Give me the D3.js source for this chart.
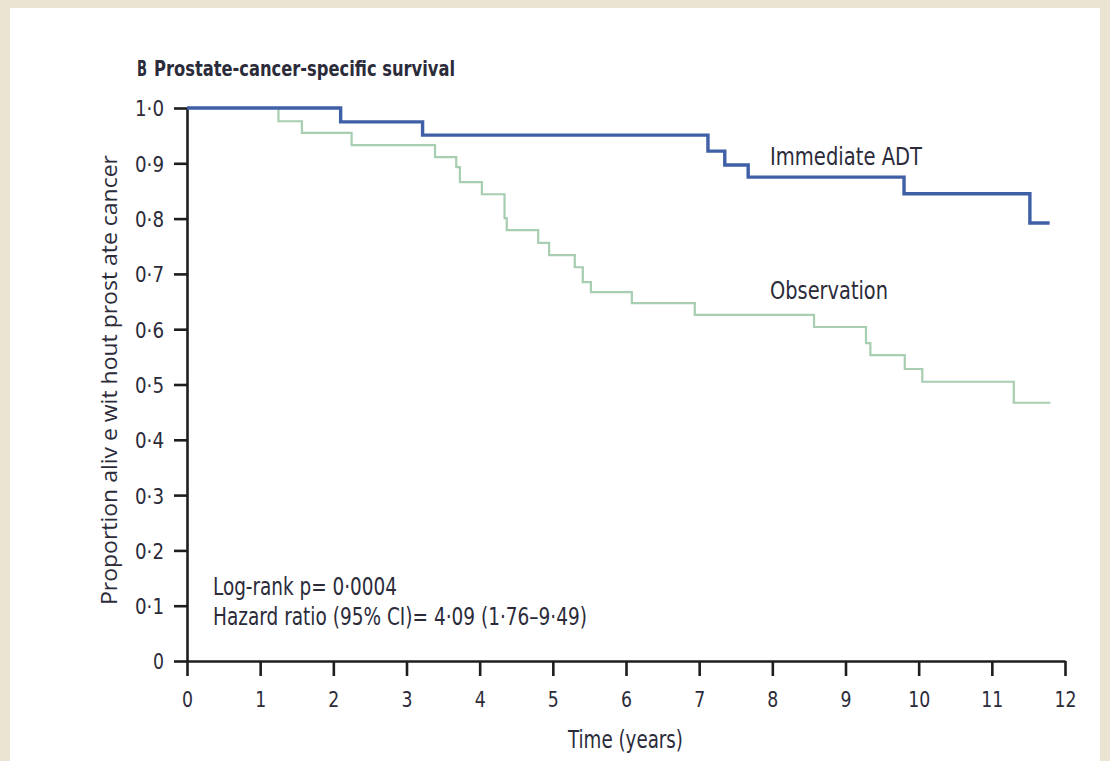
<!DOCTYPE html>
<html>
<head>
<meta charset="utf-8">
<script src="https://cdn.jsdelivr.net/npm/d3@7"></script>
<style>
  body { margin: 0; background: #ede5d5; }
  svg { display: block; }
</style>
</head>
<body>
<svg id="chart" width="1110" height="761"></svg>
<script>
// Kaplan–Meier step points: [time in years, survival proportion]
const adtTimes = [0, 2.1, 3.22, 7.12, 7.35, 7.67, 9.8, 11.52, 11.79];
const adtSurvival = [1.0, 0.975, 0.951, 0.922, 0.897, 0.875, 0.845, 0.792, 0.792];

const obsTimes = [0, 1.25, 1.57, 2.25, 3.39, 3.68, 3.73, 4.03, 4.34, 4.37, 4.80, 4.95,
  5.30, 5.41, 5.52, 6.08, 6.94, 8.57, 9.28, 9.34, 9.81, 10.05, 11.30, 11.80];
const obsSurvival = [1.0, 0.976, 0.955, 0.933, 0.911, 0.893, 0.866, 0.844, 0.801, 0.779, 0.756, 0.734,
  0.712, 0.685, 0.667, 0.647, 0.626, 0.604, 0.575, 0.553, 0.528, 0.505, 0.467, 0.467];

const xTickValues = [0, 1, 2, 3, 4, 5, 6, 7, 8, 9, 10, 11, 12];
const xTickLabels = ["0", "1", "2", "3", "4", "5", "6", "7", "8", "9", "10", "11", "12"];
const yTickValues = [0, 0.1, 0.2, 0.3, 0.4, 0.5, 0.6, 0.7, 0.8, 0.9, 1.0];
const yTickLabels = ["0", "0·1", "0·2", "0·3", "0·4", "0·5", "0·6", "0·7", "0·8", "0·9", "1·0"];

const seriesNames = ["Immediate ADT", "Observation"];
const panelTitle = ["B", "Prostate-cancer-specific survival"];
const xAxisTitle = "Time (years)";
const yAxisTitle = "Proportion aliv e wit hout prost ate cancer";
const statsLines = ["Log-rank p= 0·0004", "Hazard ratio (95% CI)= 4·09 (1·76–9·49)"];

const narrow = "'DejaVu Sans Condensed', 'DejaVu Sans', sans-serif";
const textColor = "#2b2b3a";

const svg = d3.select("#chart");

// page frame: beige surround with a white sheet
svg.append("rect").attr("width", 1110).attr("height", 761).attr("fill", "#ece4d3");
svg.append("rect").attr("x", 10).attr("y", 8).attr("width", 1090).attr("height", 753).attr("fill", "#ffffff");

const x = d3.scaleLinear().domain([0, 12]).range([187, 1065]);
const y = d3.scaleLinear().domain([0, 1]).range([661, 108]);

// axes
const xAxis = d3.axisBottom(x)
  .tickValues(xTickValues)
  .tickFormat((d, i) => xTickLabels[i])
  .tickSize(15).tickSizeOuter(0).tickPadding(15);
const yAxis = d3.axisLeft(y)
  .tickValues(yTickValues)
  .tickFormat((d, i) => yTickLabels[i])
  .tickSize(13).tickSizeOuter(0).tickPadding(10);

const gx = svg.append("g").attr("transform", `translate(0,${y(0)})`).call(xAxis);
const gy = svg.append("g").attr("transform", `translate(${x(0)},0)`).call(yAxis);

[gx, gy].forEach(g => {
  g.select(".domain").attr("stroke", "#1e1e1e").attr("stroke-width", 2.6);
  g.selectAll(".tick line").attr("stroke", "#1e1e1e").attr("stroke-width", 2.6);
  g.selectAll(".tick text")
    .attr("fill", textColor)
    .style("font-family", narrow)
    .style("font-size", "22px")
    .attr("lengthAdjust", "spacingAndGlyphs")
    .attr("textLength", function () {
      const s = d3.select(this).text();
      return s.length === 1 ? 11 : s.includes("·") ? 29 : 22;
    });
});
gy.selectAll(".tick text").attr("dy", "0.36em");

// survival curves
const stepLine = d3.line()
  .x(d => x(d[0]))
  .y(d => y(d[1]))
  .curve(d3.curveStepAfter);

const obsData = obsTimes.map((t, i) => [t, obsSurvival[i]]);
const adtData = adtTimes.map((t, i) => [t, adtSurvival[i]]);

svg.append("path")
  .datum(obsData)
  .attr("d", stepLine)
  .attr("fill", "none")
  .attr("stroke", "#a7ceb0")
  .attr("stroke-width", 2.2);

svg.append("path")
  .datum(adtData)
  .attr("d", stepLine)
  .attr("fill", "none")
  .attr("stroke", "#3f5fa6")
  .attr("stroke-width", 3.4);

// text helper: fitted width to mimic the condensed journal typeface
function label(txt, px, py, size, width, opts = {}) {
  const t = svg.append("text")
    .attr("x", px).attr("y", py)
    .attr("fill", textColor)
    .style("font-family", opts.family || narrow)
    .style("font-size", size + "px")
    .style("font-weight", opts.weight || "normal")
    .text(txt);
  if (width) t.attr("textLength", width).attr("lengthAdjust", "spacingAndGlyphs");
  if (opts.transform) t.attr("transform", opts.transform);
  if (opts.anchor) t.attr("text-anchor", opts.anchor);
  return t;
}

// panel title
label(panelTitle[0], 137, 76, 21, 10, { weight: "bold" });
label(panelTitle[1], 154, 76, 21, 301, { weight: "bold" });

// series labels
label(seriesNames[0], 770, 165, 25, 152);
label(seriesNames[1], 770, 299, 25, 118);

// statistics
label(statsLines[0], 213, 595, 24, 184);
label(statsLines[1], 213, 625, 24, 374);

// axis titles
label(xAxisTitle, 568, 748, 24, 115);
label(yAxisTitle, 0, 0, 21, 450, {
  family: "'Open Sans', 'Noto Sans', sans-serif",
  transform: "translate(117,605) rotate(-90)"
});
</script>
</body>
</html>
